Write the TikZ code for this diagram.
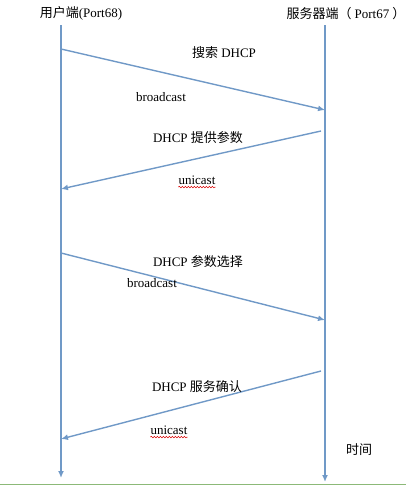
\documentclass[tikz,border=0pt]{standalone}
\usepackage{fontspec}
\setmainfont{Liberation Serif}
\newfontfamily\cjk{Noto Sans CJK SC}
\usetikzlibrary{arrows.meta,decorations.pathmorphing}
\definecolor{lineblue}{RGB}{112,153,199}
\definecolor{groundgreen}{RGB}{140,185,120}

\begin{document}
\begin{tikzpicture}[x=1pt,y=-1pt,
	msg/.style={color=lineblue,line width=1.4pt,-{Latex[length=7pt,width=6pt]}},
	life/.style={color=lineblue,line width=1.8pt,-{Latex[length=7pt,width=6pt]}},
	lbl/.style={font=\fontsize{13}{15}\selectfont,inner sep=0pt},
	wavy/.style={color=red!85!black,line width=0.5pt,decorate,decoration={snake,amplitude=0.8pt,segment length=3pt}}]
		\useasboundingbox (0,0) rectangle (406,485);

		%titles
		\node[lbl] (client) at (81,13) {{\cjk 用户端}(Port68)};
		\node[lbl] (server) at (346,14) {{\cjk 服务器端（}\hspace{3pt}Port67\hspace{3pt}{\cjk ）}};

		%lifelines
		\coordinate (c0) at (61,25);
		\coordinate (c1) at (61,478);
		\coordinate (s0) at (325,25);
		\coordinate (s1) at (325,482);
		\draw[life] (c0) -- (c1);
		\draw[life] (s0) -- (s1);

		%message ends
		\coordinate (m1a) at (61,49);
		\coordinate (m1b) at (325,110);
		\coordinate (m2a) at (321,131);
		\coordinate (m2b) at (61,189);
		\coordinate (m3a) at (61,253);
		\coordinate (m3b) at (325,320);
		\coordinate (m4a) at (321,371);
		\coordinate (m4b) at (61,439);

		%messages
		\draw[msg] (m1a) -- (m1b);
		\draw[msg] (m2a) -- (m2b);
		\draw[msg] (m3a) -- (m3b);
		\draw[msg] (m4a) -- (m4b);

		%labels
		\node[lbl] (discover) at (224,53) {{\cjk 搜索} DHCP};
		\node[lbl] (bc1) at (161,97) {broadcast};
		\node[lbl] (offer) at (198,138) {DHCP {\cjk 提供参数}};
		\node[lbl] (uc1) at (197,180) {unicast};
		\node[lbl] (request) at (198,262) {DHCP {\cjk 参数选择}};
		\node[lbl] (bc2) at (152,283) {broadcast};
		\node[lbl] (ack) at (197,387) {DHCP {\cjk 服务确认}};
		\node[lbl] (uc2) at (169,430) {unicast};
		\node[lbl] (time) at (359,450) {\cjk 时间};

		%spell marks
		\draw[wavy] ([yshift=-2.5pt]uc1.south west) -- ([yshift=-2.5pt]uc1.south east);
		\draw[wavy] ([yshift=-2.5pt]uc2.south west) -- ([yshift=-2.5pt]uc2.south east);

		%ground
		\coordinate (g0) at (0,484);
		\coordinate (g1) at (406,484);
		\draw[groundgreen,line width=0.8pt] (g0) -- (g1);
	\end{tikzpicture}
\end{document}
